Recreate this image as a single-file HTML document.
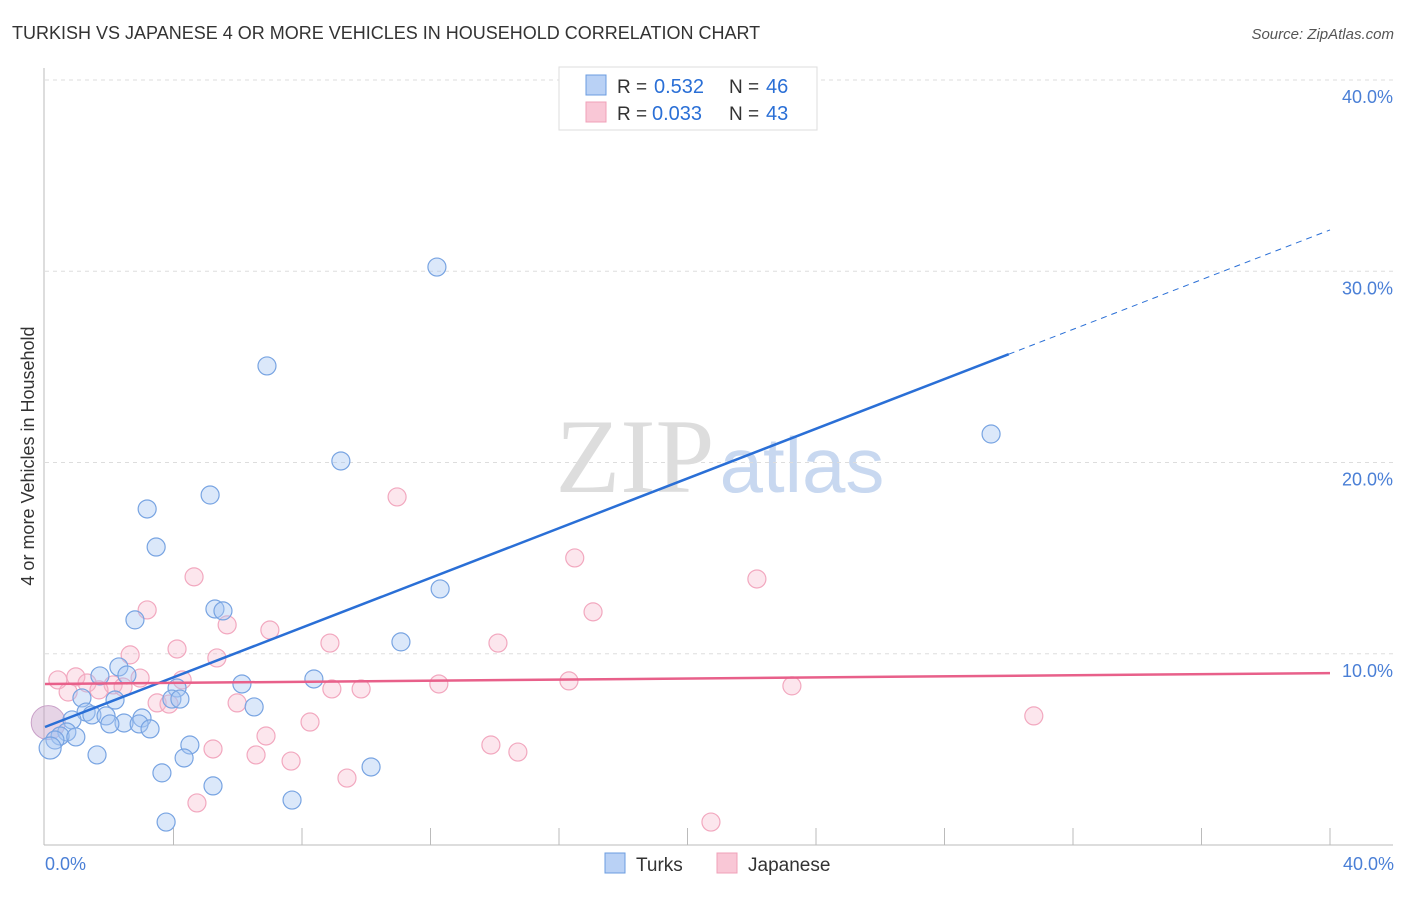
<!DOCTYPE html>
<html><head><meta charset="utf-8"><style>
body{margin:0;background:#fff;font-family:"Liberation Sans",sans-serif;}
</style></head><body>
<svg width="1406" height="892" xmlns="http://www.w3.org/2000/svg" font-family="Liberation Sans, sans-serif">
<text x="12" y="39" font-size="18" fill="#333">TURKISH VS JAPANESE 4 OR MORE VEHICLES IN HOUSEHOLD CORRELATION CHART</text>
<text x="1394" y="39" font-size="15" fill="#555" font-style="italic" text-anchor="end">Source: ZipAtlas.com</text>
<g>
<text x="635" y="492" font-size="106" fill="#ddd" font-family="Liberation Serif, serif" text-anchor="middle">ZIP</text>
<text x="802" y="492" font-size="78" fill="#c8d8f0" text-anchor="middle">atlas</text>
</g>
<g id="grid"></g>
<g id="axes"></g>
<g id="pts"></g>
<g id="lines"></g>
<text transform="translate(34,456) rotate(-90)" font-size="18" fill="#333" text-anchor="middle">4 or more Vehicles in Household</text>
<text x="45" y="870" font-size="18" fill="#4a7fd6">0.0%</text>
<text x="1394" y="870" font-size="18" fill="#4a7fd6" text-anchor="end">40.0%</text>
<g>
<rect x="559" y="67" width="258" height="63" fill="#fff" stroke="#ddd"/>
<rect x="586" y="75" width="20" height="20" fill="#b9d1f5" stroke="#6b9ce0"/>
<rect x="586" y="102" width="20" height="20" fill="#f9c7d6" stroke="#f0a0b8"/>
<text x="617" y="93" font-size="19" fill="#333">R =</text>
<text x="654" y="93" font-size="20" fill="#2a6fd6">0.532</text>
<text x="729" y="93" font-size="19" fill="#333">N =</text>
<text x="766" y="93" font-size="20" fill="#2a6fd6">46</text>
<text x="617" y="120" font-size="19" fill="#333">R =</text>
<text x="652" y="120" font-size="20" fill="#2a6fd6">0.033</text>
<text x="729" y="120" font-size="19" fill="#333">N =</text>
<text x="766" y="120" font-size="20" fill="#2a6fd6">43</text>
</g>
<g>
<rect x="605" y="853" width="20" height="20" fill="#b9d1f5" stroke="#6b9ce0"/>
<text x="636" y="871" font-size="19" fill="#333">Turks</text>
<rect x="717" y="853" width="20" height="20" fill="#f9c7d6" stroke="#f0a0b8"/>
<text x="748" y="871" font-size="19" fill="#333">Japanese</text>
</g>
</svg>
<script>
const yTicks=[10,20,30,40];
const yTickLabels=["10.0%","20.0%","30.0%","40.0%"];
const xTicks=[4,8,12,16,20,24,28,32,36,40];
const turksX=[12.20,6.91,9.21,29.45,5.14,3.18,3.46,12.30,5.29,5.54,2.80,11.08,2.30,2.55,1.71,8.37,6.13,4.11,1.15,2.18,3.95,4.20,6.51,1.28,1.46,1.90,3.02,0.84,2.46,2.02,2.93,3.27,0.68,0.47,0.96,0.31,0.16,4.51,1.62,4.33,10.15,3.64,5.23,7.69,3.77];
const turksY=[30.22,25.05,20.08,21.49,18.30,17.57,15.58,13.39,12.34,12.24,11.77,10.62,9.31,8.89,8.84,8.68,8.42,8.21,7.69,7.58,7.63,7.63,7.22,6.95,6.80,6.75,6.64,6.54,6.38,6.33,6.33,6.07,5.91,5.70,5.65,5.49,5.07,5.23,4.71,4.55,4.08,3.77,3.09,2.35,1.20];
const japX=[10.96,16.49,22.16,4.64,17.06,3.18,5.67,7.00,8.87,14.10,4.11,2.65,5.35,0.40,0.96,2.96,4.27,1.31,2.12,2.43,1.68,0.72,12.26,16.31,23.25,8.93,9.84,3.49,3.86,5.98,30.78,8.25,6.88,13.88,5.23,14.72,6.57,7.66,9.40,4.73,20.73];
const japY=[18.20,15.01,13.91,14.02,12.19,12.29,11.51,11.24,10.56,10.56,10.25,9.94,9.78,8.63,8.79,8.73,8.63,8.47,8.37,8.26,8.11,8.00,8.42,8.58,8.32,8.16,8.16,7.43,7.37,7.43,6.75,6.43,5.70,5.23,5.02,4.86,4.71,4.39,3.50,2.20,1.20];
const turksTrend=[6.17,32.16];
const japTrend=[8.42,8.99];
const X=v=>45+v/40*1285, Y=v=>845-v/10*191.25;
const NS="http://www.w3.org/2000/svg";
function mk(tag,attrs,parent){const e=document.createElementNS(NS,tag);for(const k in attrs)e.setAttribute(k,attrs[k]);document.getElementById(parent).appendChild(e);return e;}
yTicks.forEach((t,i)=>{
 const l=mk('line',{x1:45,x2:1393,y1:Y(t),y2:Y(t),stroke:'#ddd','stroke-dasharray':'4,4'},'grid');
 
 
 const tx=mk('text',{x:1393,y:Y(t)+23,'font-size':18,fill:'#4a7fd6','text-anchor':'end'},'grid');
 tx.textContent=yTickLabels[i];
 
 
});
const ax=mk('line',{x1:44,x2:44,y1:68,y2:845,stroke:'#bbb'},'axes');


const bx=mk('line',{x1:44,x2:1393,y1:845,y2:845,stroke:'#bbb'},'axes');


xTicks.forEach(t=>{
 const l=mk('line',{x1:X(t),x2:X(t),y1:828,y2:845,stroke:'#bbb'},'axes');
 
 
});
const big1=mk('circle',{cx:X(0.1),cy:Y(6.4),r:17,fill:'rgba(200,160,200,0.45)',stroke:'#c9a0c8'},'pts');


japX.forEach((x,i)=>{
 const c=mk('circle',{cx:X(x),cy:Y(japY[i]),r:9,fill:'rgba(246,182,202,0.35)',stroke:'#f2a8bf','stroke-width':1.2},'pts');
 
 
});
turksX.forEach((x,i)=>{
 const c=mk('circle',{cx:X(x),cy:Y(turksY[i]),r:i==36?11:9,fill:'rgba(165,197,242,0.4)',stroke:'#78a4e2','stroke-width':1.2},'pts');
 
 
});
const xs=30;
const ty=x=>turksTrend[0]+(turksTrend[1]-turksTrend[0])*x/40;
const t1=mk('line',{x1:X(0),y1:Y(ty(0)),x2:X(xs),y2:Y(ty(xs)),stroke:'#2a6fd6','stroke-width':2.5},'lines');


const t2=mk('line',{x1:X(xs),y1:Y(ty(xs)),x2:X(40),y2:Y(ty(40)),stroke:'#2a6fd6','stroke-width':1,'stroke-dasharray':'6,5'},'lines');


const t3=mk('line',{x1:X(0),y1:Y(japTrend[0]),x2:X(40),y2:Y(japTrend[1]),stroke:'#e8608a','stroke-width':2.5},'lines');


</script>
</body></html>
